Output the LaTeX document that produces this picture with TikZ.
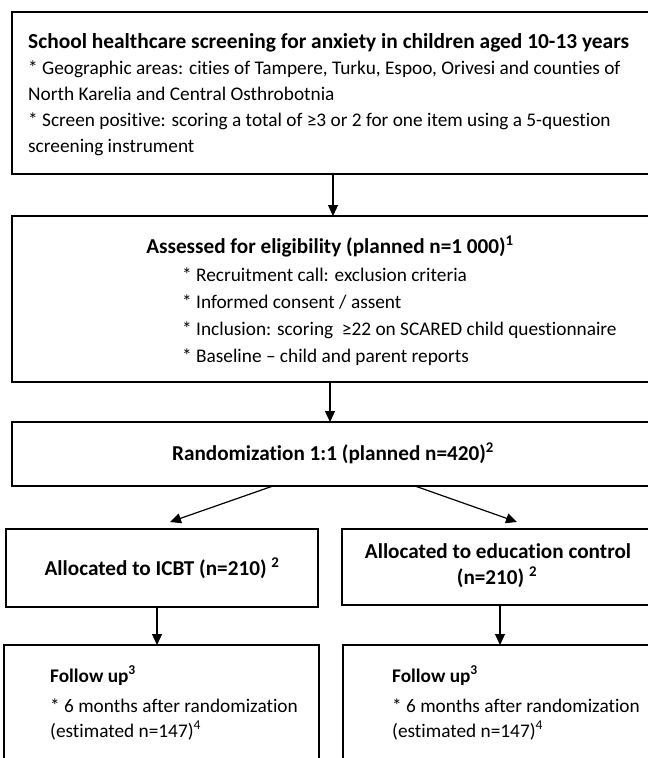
\documentclass[tikz,border=0pt]{standalone}
\usepackage{fontspec}
\setmainfont{Carlito}[Ligatures=NoCommon]
\usetikzlibrary{arrows.meta, calc}

\begin{document}
\begin{tikzpicture}[x=1pt, y=-1pt,
    font=\fontsize{19.3}{23}\selectfont,
    box/.style={draw, line width=1.4pt, anchor=north west, inner sep=0pt, outer sep=0pt},
    arr/.style={line width=1.2pt, -{Triangle[length=11pt, width=10pt]}},
    line/.style={anchor=base west, inner sep=0pt},
    bline/.style={line, font=\fontsize{19.3}{23}\selectfont\bfseries},
    head/.style={anchor=base, inner sep=0pt, font=\fontsize{21.2}{25}\selectfont\bfseries}]
  \useasboundingbox (0,0) rectangle (648,758);
  % ---- boxes ----
  \node[box, minimum width=660pt, minimum height=162pt] (screening) at (12,12) {};
  \node[box, minimum width=660pt, minimum height=166pt] (eligibility) at (12,216) {};
  \node[box, minimum width=660pt, minimum height=64pt] (randomization) at (12,422) {};
  \node[box, minimum width=312pt, minimum height=78pt] (allocicbt) at (6,529) {};
  \node[box, minimum width=330pt, minimum height=76pt] (alloccontrol) at (342,529) {};
  \node[box, minimum width=315pt, minimum height=130pt] (followicbt) at (4,645) {};
  \node[box, minimum width=330pt, minimum height=130pt] (followcontrol) at (343,645) {};
  % ---- screening (last line cut by the text frame) ----
  \begin{scope}
    \clip (screening.north west) rectangle ($(screening.south east)+(0,-16)$);
    \node[line, font=\fontsize{21.4}{25}\selectfont\bfseries] (scrtitle) at (28,48)
      {School healthcare screening for anxiety in children aged 10-13 years};
    \node[line] (scrareas) at (28,74)
      {* Geographic areas: cities of Tampere, Turku, Espoo, Orivesi and counties of};
    \node[line] (scrcounties) at (28,100) {North Karelia and Central Osthrobotnia};
    \node[line] (scrpositive) at (28,126)
      {* Screen positive: scoring a total of ≥3 or 2 for one item using a 5-question};
    \node[line] (scrinstrument) at (28,152) {screening instrument};
  \end{scope}
  % ---- eligibility ----
  \node[head] (eligtitle) at (330,253)
    {Assessed for eligibility (planned n=1 000)\textsuperscript{1}};
  \node[line] (eligcall) at (182,281) {* Recruitment call: exclusion criteria};
  \node[line] (eligconsent) at (182,308) {* Informed consent / assent};
  \node[line] (eliginclusion) at (182,335) {* Inclusion: scoring \ ≥22 on SCARED child questionnaire};
  \node[line] (eligbaseline) at (182,362) {* Baseline -- child and parent reports};
  % ---- randomization and allocation ----
  \node[head] (randtitle) at (333,460) {Randomization 1:1 (planned n=420)\textsuperscript{2}};
  \node[head] (icbttitle) at (162,575) {Allocated to ICBT (n=210) \textsuperscript{2}};
  \node[head] (controltitle) at (498,558) {Allocated to education control};
  \node[head] (controln) at (497,584) {(n=210) \textsuperscript{2}};
  % ---- follow up ----
  \node[bline] (icbtfollow) at (50,682) {Follow up\textsuperscript{3}};
  \node[line] (icbtmonths) at (50,712) {* 6 months after randomization};
  \node[line] (icbtest) at (50,737) {(estimated n=147)\textsuperscript{4}};
  \node[bline] (controlfollow) at (392,682) {Follow up\textsuperscript{3}};
  \node[line] (controlmonths) at (392,712) {* 6 months after randomization};
  \node[line] (controlest) at (392,737) {(estimated n=147)\textsuperscript{4}};
  % ---- arrows ----
  \coordinate (icbttip) at (170,522);
  \coordinate (controltip) at (517,522);
  \draw[arr] ($(screening.south west)+(321,0)$) -- ($(eligibility.north west)+(321,0)$);
  \draw[arr] ($(eligibility.south west)+(318,0)$) -- ($(randomization.north west)+(318,0)$);
  \draw[arr] ($(randomization.south west)+(261,0)$) -- (icbttip);
  \draw[arr] ($(randomization.south west)+(403,0)$) -- (controltip);
  \draw[arr] ($(allocicbt.south west)+(151,0)$) -- ($(followicbt.north west)+(153,0)$);
  \draw[arr] ($(alloccontrol.south west)+(158,0)$) -- ($(followcontrol.north west)+(157,0)$);
\end{tikzpicture}
\end{document}
